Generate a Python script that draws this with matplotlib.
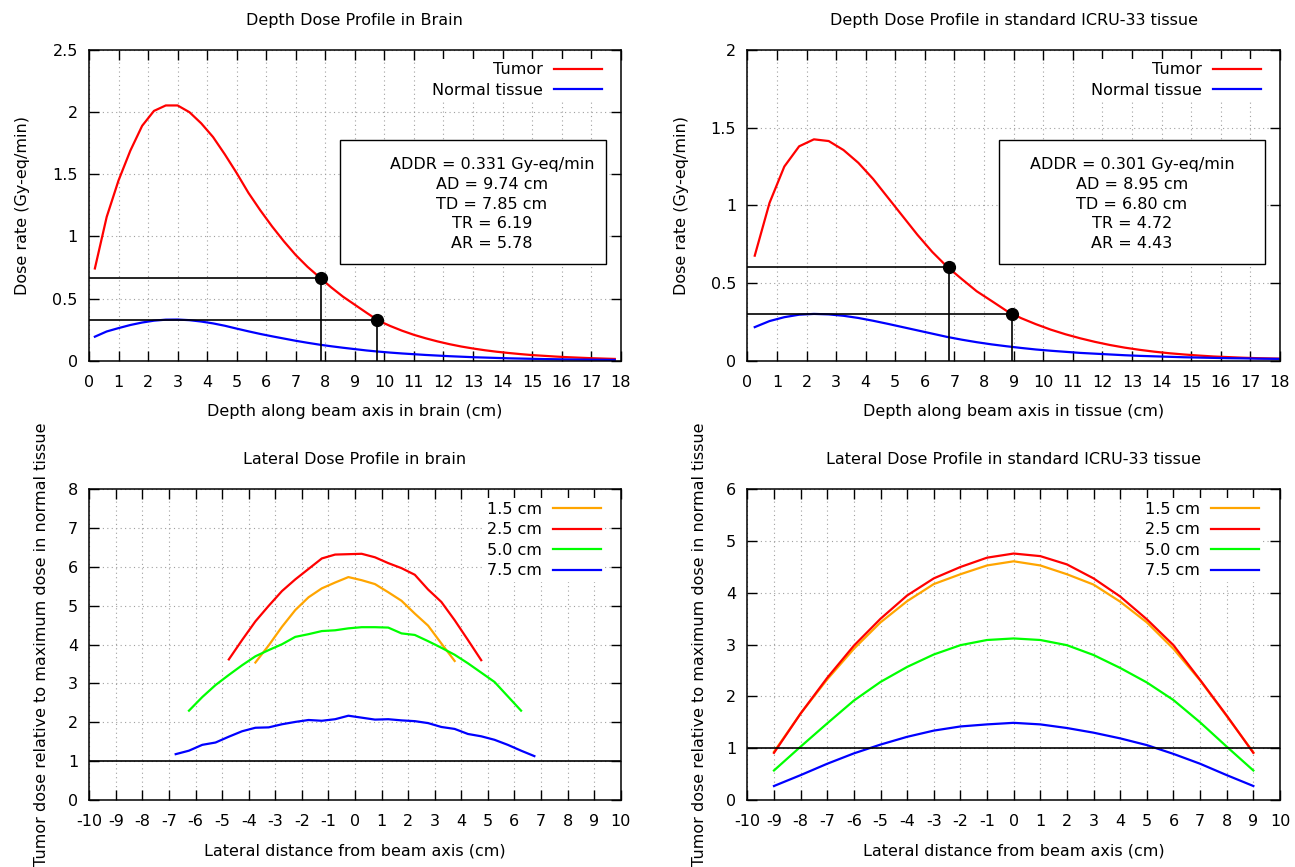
import matplotlib.pyplot as plt
from matplotlib.patches import Rectangle

plt.rcParams['font.family'] = 'DejaVu Sans'
plt.rcParams['font.size'] = 11.5
plt.rcParams['axes.unicode_minus'] = False

# ---- depth dose data ----
brain_depth = [0.2, 0.6, 1.0, 1.4, 1.8, 2.2, 2.6, 3.0, 3.4, 3.8, 4.2, 4.6, 5.0, 5.4, 5.8,
               6.2, 6.6, 7.0, 7.4, 7.8, 8.2, 8.6, 9.0, 9.4, 9.8, 10.2, 10.6, 11.0, 11.4,
               11.8, 12.2, 12.6, 13.0, 13.4, 13.8, 14.2, 14.6, 15.0, 15.4, 15.8, 16.2,
               16.6, 17.0, 17.4, 17.8]
brain_tumor = [0.742, 1.157, 1.45, 1.69, 1.89, 2.01, 2.054, 2.054, 2.00, 1.91, 1.80, 1.66,
               1.51, 1.35, 1.21, 1.08, 0.96, 0.85, 0.755, 0.672, 0.59, 0.515, 0.45, 0.385,
               0.322, 0.279, 0.241, 0.208, 0.18, 0.155, 0.133, 0.114, 0.098, 0.084, 0.072,
               0.062, 0.053, 0.045, 0.039, 0.033, 0.028, 0.024, 0.02, 0.017, 0.014]
brain_normal = [0.193, 0.235, 0.262, 0.287, 0.307, 0.322, 0.33, 0.331, 0.326, 0.315, 0.300,
                0.281, 0.258, 0.236, 0.215, 0.196, 0.178, 0.16, 0.144, 0.129, 0.116, 0.104,
                0.093, 0.082, 0.073, 0.065, 0.058, 0.052, 0.046, 0.041, 0.036, 0.032, 0.028,
                0.025, 0.022, 0.019, 0.017, 0.015, 0.013, 0.0115, 0.010, 0.009, 0.008,
                0.007, 0.006]
brain_addr, brain_ad, brain_td, brain_tr, brain_ar = 0.331, 9.74, 7.85, 6.19, 5.78

tissue_depth = [0.25, 0.75, 1.25, 1.75, 2.25, 2.75, 3.25, 3.75, 4.25, 4.75, 5.25, 5.75,
                6.25, 6.75, 7.25, 7.75, 8.25, 8.75, 9.25, 9.75, 10.25, 10.75, 11.25, 11.75,
                12.25, 12.75, 13.25, 13.75, 14.25, 14.75, 15.25, 15.75, 16.25, 16.75,
                17.25, 17.75, 18.25]
tissue_tumor = [0.676, 1.016, 1.25, 1.38, 1.425, 1.414, 1.356, 1.274, 1.17, 1.05, 0.93,
                0.81, 0.70, 0.605, 0.525, 0.447, 0.385, 0.322, 0.274, 0.235, 0.20, 0.17,
                0.144, 0.121, 0.101, 0.084, 0.07, 0.058, 0.048, 0.04, 0.033, 0.027, 0.023,
                0.019, 0.016, 0.014, 0.012]
tissue_normal = [0.216, 0.255, 0.28, 0.296, 0.301, 0.298, 0.289, 0.275, 0.257, 0.237, 0.216,
                 0.195, 0.174, 0.153, 0.135, 0.119, 0.105, 0.093, 0.082, 0.072, 0.064,
                 0.057, 0.05, 0.045, 0.04, 0.035, 0.031, 0.028, 0.025, 0.022, 0.02, 0.018,
                 0.016, 0.015, 0.013, 0.012, 0.011]
tissue_addr, tissue_ad, tissue_td, tissue_tr, tissue_ar = 0.301, 8.95, 6.80, 4.72, 4.43

# ---- lateral profile data (brain) ----
lat_b15_x = [-3.75, -3.25, -2.75, -2.25, -1.75, -1.25, -0.75, -0.25, 0.25, 0.75, 1.25, 1.75,
             2.25, 2.75, 3.25, 3.75]
lat_b15 = [3.54, 3.98, 4.46, 4.89, 5.22, 5.45, 5.60, 5.74, 5.66, 5.56, 5.35, 5.13, 4.80,
           4.49, 4.03, 3.58]
lat_b25_x = [-4.75, -4.25, -3.75, -3.25, -2.75, -2.25, -1.75, -1.25, -0.75, -0.25, 0.25,
             0.75, 1.25, 1.75, 2.25, 2.75, 3.25, 3.75, 4.25, 4.75]
lat_b25 = [3.62, 4.12, 4.60, 5.00, 5.38, 5.68, 5.95, 6.22, 6.32, 6.33, 6.34, 6.25, 6.10,
           5.97, 5.80, 5.42, 5.10, 4.63, 4.12, 3.60]
lat_b50_x = [-6.25, -5.75, -5.25, -4.75, -4.25, -3.75, -3.25, -2.75, -2.25, -1.75, -1.25,
             -0.75, -0.25, 0.25, 0.75, 1.25, 1.75, 2.25, 2.75, 3.25, 3.75, 4.25, 4.75,
             5.25, 5.75, 6.25]
lat_b50 = [2.30, 2.65, 2.96, 3.22, 3.47, 3.70, 3.86, 4.01, 4.20, 4.27, 4.35, 4.37, 4.42,
           4.45, 4.45, 4.44, 4.29, 4.25, 4.09, 3.92, 3.74, 3.52, 3.28, 3.04, 2.67, 2.30]
lat_b75_x = [-6.75, -6.25, -5.75, -5.25, -4.75, -4.25, -3.75, -3.25, -2.75, -2.25, -1.75,
             -1.25, -0.75, -0.25, 0.25, 0.75, 1.25, 1.75, 2.25, 2.75, 3.25, 3.75, 4.25,
             4.75, 5.25, 5.75, 6.25, 6.75]
lat_b75 = [1.18, 1.27, 1.42, 1.48, 1.63, 1.77, 1.86, 1.87, 1.95, 2.01, 2.06, 2.04, 2.08,
           2.17, 2.12, 2.07, 2.08, 2.05, 2.03, 1.98, 1.88, 1.83, 1.70, 1.64, 1.55, 1.42,
           1.27, 1.13]

# ---- lateral profile data (ICRU-33 tissue) ----
lat_t_x = [-9, -8, -7, -6, -5, -4, -3, -2, -1, 0, 1, 2, 3, 4, 5, 6, 7, 8, 9]
lat_t15 = [0.93, 1.67, 2.33, 2.92, 3.43, 3.84, 4.17, 4.36, 4.53, 4.61, 4.53, 4.36, 4.16,
           3.83, 3.43, 2.92, 2.31, 1.62, 0.92]
lat_t25 = [0.91, 1.67, 2.36, 2.98, 3.50, 3.95, 4.28, 4.50, 4.68, 4.76, 4.71, 4.55, 4.28,
           3.93, 3.49, 2.99, 2.32, 1.63, 0.91]
lat_t50 = [0.57, 1.03, 1.48, 1.92, 2.28, 2.57, 2.81, 2.99, 3.09, 3.12, 3.09, 2.99, 2.80,
           2.55, 2.27, 1.93, 1.50, 1.03, 0.57]
lat_t75 = [0.27, 0.48, 0.70, 0.90, 1.07, 1.22, 1.34, 1.42, 1.46, 1.49, 1.46, 1.39, 1.30,
           1.19, 1.06, 0.89, 0.70, 0.48, 0.27]

ORANGE, RED, GREEN, BLUE = '#ffa500', '#ff0000', '#00ff00', '#0000ff'


def setup(ax, xlim, ylim, xticks, yticks):
    ax.set_xlim(*xlim)
    ax.set_ylim(*ylim)
    ax.set_xticks(xticks)
    ax.set_yticks(yticks)
    ax.set_xticklabels(['%g' % t for t in xticks])
    ax.set_yticklabels(['%g' % t for t in yticks])
    ax.tick_params(direction='in', top=True, right=True, length=7, width=1)
    ax.tick_params(axis='x', pad=10)
    ax.tick_params(axis='y', pad=8)
    ax.grid(True, color='#a0a0a0', linestyle=(0, (1, 3)), linewidth=0.8)
    ax.set_axisbelow(True)
    for s in ax.spines.values():
        s.set_linewidth(1.1)


def legend(ax, anchor, spacing):
    ax.legend(loc='upper right', bbox_to_anchor=anchor, markerfirst=False, frameon=True,
              framealpha=1, facecolor='white', edgecolor='none', fancybox=False,
              borderpad=0.2, borderaxespad=0, handlelength=3.0, handletextpad=0.7,
              labelspacing=spacing)


def depth_panel(ax, depth, tumor, normal, addr, ad, td, tr, ar, title, xlabel, box, txt_x,
                ymax, yticks):
    setup(ax, (0, 18), (0, ymax), range(0, 19), yticks)
    ax.plot(depth, tumor, color=RED, lw=1.6, label='Tumor')
    ax.plot(depth, normal, color=BLUE, lw=1.6, label='Normal tissue')
    for d, v in ((td, 2 * addr), (ad, addr)):
        ax.plot([0, d, d], [v, v, 0], color='black', lw=1.2, zorder=3)
        ax.plot(d, v, 'o', color='black', ms=8.5, zorder=4)
    ax.add_patch(Rectangle((box[0], box[1]), box[2], box[3], transform=ax.transAxes,
                           facecolor='white', edgecolor='black', lw=1, zorder=5))
    ax.text(txt_x, 0.504,
            'ADDR = %.3f Gy-eq/min\nAD = %.2f cm\nTD = %.2f cm\nTR = %.2f\nAR = %.2f'
            % (addr, ad, td, tr, ar),
            transform=ax.transAxes, ha='center', va='center', multialignment='center',
            linespacing=1.39, zorder=6)
    ax.set_title(title, pad=18, fontsize=11.5)
    ax.set_xlabel(xlabel, labelpad=10.5)
    ax.set_ylabel('Dose rate (Gy-eq/min)', labelpad=16)
    legend(ax, (0.971, 0.971), 0.34)


fig = plt.figure(figsize=(12.95, 8.67), dpi=100)
ax_tl = fig.add_axes([0.0687, 0.584, 0.4106, 0.3583])
ax_tr = fig.add_axes([0.5771, 0.584, 0.4113, 0.3583])
ax_bl = fig.add_axes([0.0690, 0.0773, 0.4103, 0.3583])
ax_br = fig.add_axes([0.5771, 0.0773, 0.4113, 0.3583])

depth_panel(ax_tl, brain_depth, brain_tumor, brain_normal, brain_addr, brain_ad, brain_td,
            brain_tr, brain_ar, 'Depth Dose Profile in Brain',
            'Depth along beam axis in brain (cm)', (0.472, 0.311, 0.50, 0.399), 0.758,
            2.5, [0, 0.5, 1, 1.5, 2, 2.5])
depth_panel(ax_tr, tissue_depth, tissue_tumor, tissue_normal, tissue_addr, tissue_ad,
            tissue_td, tissue_tr, tissue_ar, 'Depth Dose Profile in standard ICRU-33 tissue',
            'Depth along beam axis in tissue (cm)', (0.4725, 0.311, 0.4995, 0.399), 0.722,
            2, [0, 0.5, 1, 1.5, 2])

# lateral brain
setup(ax_bl, (-10, 10), (0, 8), range(-10, 11), range(0, 9))
ax_bl.plot(lat_b15_x, lat_b15, color=ORANGE, lw=1.6, label='1.5 cm')
ax_bl.plot(lat_b25_x, lat_b25, color=RED, lw=1.6, label='2.5 cm')
ax_bl.plot(lat_b50_x, lat_b50, color=GREEN, lw=1.6, label='5.0 cm')
ax_bl.plot(lat_b75_x, lat_b75, color=BLUE, lw=1.6, label='7.5 cm')
ax_bl.axhline(1, color='black', lw=1.2)
ax_bl.set_title('Lateral Dose Profile in brain', pad=18, fontsize=11.5)
ax_bl.set_xlabel('Lateral distance from beam axis (cm)', labelpad=10.5)
ax_bl.set_ylabel('Tumor dose relative to maximum dose in normal tissue', labelpad=14)
legend(ax_bl, (0.969, 0.971), 0.35)

# lateral tissue
setup(ax_br, (-10, 10), (0, 6), range(-10, 11), range(0, 7))
ax_br.plot(lat_t_x, lat_t15, color=ORANGE, lw=1.6, label='1.5 cm')
ax_br.plot(lat_t_x, lat_t25, color=RED, lw=1.6, label='2.5 cm')
ax_br.plot(lat_t_x, lat_t50, color=GREEN, lw=1.6, label='5.0 cm')
ax_br.plot(lat_t_x, lat_t75, color=BLUE, lw=1.6, label='7.5 cm')
ax_br.axhline(1, color='black', lw=1.2)
ax_br.set_title('Lateral Dose Profile in standard ICRU-33 tissue', pad=18, fontsize=11.5)
ax_br.set_xlabel('Lateral distance from beam axis (cm)', labelpad=10.5)
ax_br.set_ylabel('Tumor dose relative to maximum dose in normal tissue', labelpad=14)
legend(ax_br, (0.967, 0.971), 0.35)

fig.savefig('out.png', dpi=100)
